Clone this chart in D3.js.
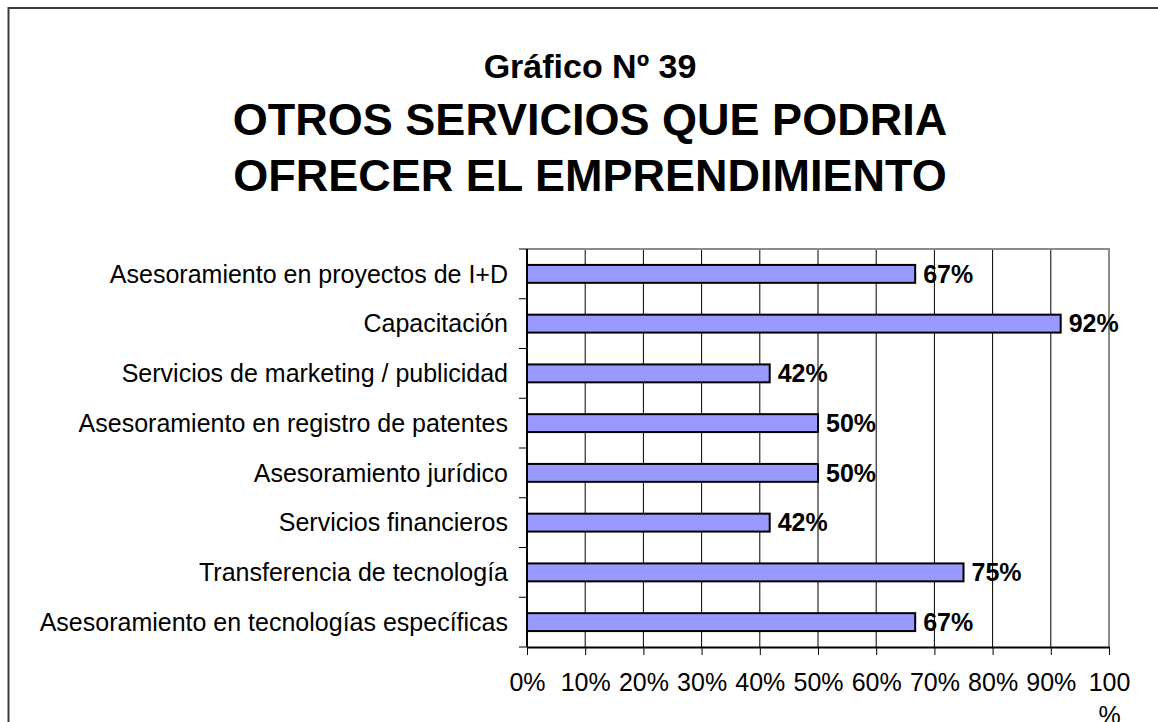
<!DOCTYPE html>
<html>
<head>
<meta charset="utf-8">
<script src="https://cdn.jsdelivr.net/npm/d3@7"></script>
<style>
  body { margin: 0; background: #fff; }
  svg text { font-family: "Liberation Sans", Arial, sans-serif; fill: #000; }
</style>
</head>
<body>
<div class="d3-wrapper"></div>
<script>
const categories = [
  'Asesoramiento en proyectos de I+D',
  'Capacitación',
  'Servicios de marketing / publicidad',
  'Asesoramiento en registro de patentes',
  'Asesoramiento jurídico',
  'Servicios financieros',
  'Transferencia de tecnología',
  'Asesoramiento en tecnologías específicas'
];
const values = [66.7, 91.7, 41.7, 50, 50, 41.7, 75, 66.7];
const tickValues = [0, 10, 20, 30, 40, 50, 60, 70, 80, 90, 100];
const titleLines = ['OTROS SERVICIOS QUE PODRIA', 'OFRECER EL EMPRENDIMIENTO'];

const WIDTH = 1158, HEIGHT = 722;
const PLOT = { left: 527, top: 249, right: 1109, bottom: 647 };
const BAR_FILL = '#9999ff';
const TITLE_X = 590;

const data = categories.map((c, i) => ({ name: c, value: values[i] }));

const xScale = d3.scaleLinear().domain([0, 100]).range([PLOT.left, PLOT.right]);
const yScale = d3.scaleBand().domain(categories).range([PLOT.top, PLOT.bottom])
  .paddingInner(0.64).paddingOuter(0.32);

const svg = d3.select('.d3-wrapper').append('svg')
  .attr('width', WIDTH)
  .attr('height', HEIGHT);

// outer frame (right and bottom edges fall outside the picture)
svg.append('rect')
  .attr('x', 8.5).attr('y', 8)
  .attr('width', WIDTH + 20).attr('height', HEIGHT + 20)
  .attr('fill', 'none')
  .attr('stroke', '#3a3a3a')
  .attr('stroke-width', 2);

// titles
svg.append('text')
  .attr('x', TITLE_X).attr('y', 78)
  .attr('text-anchor', 'middle')
  .style('font-size', '34px').style('font-weight', 'bold')
  .text('Gráfico Nº 39');

svg.selectAll('.title-line')
  .data(titleLines)
  .enter().append('text')
  .attr('class', 'title-line')
  .attr('x', TITLE_X)
  .attr('y', (d, i) => 135 + i * 56)
  .attr('text-anchor', 'middle')
  .style('font-size', '45px').style('font-weight', 'bold')
  .text(d => d);

// gridlines
svg.append('g')
  .selectAll('line')
  .data(tickValues.slice(1, -1))
  .enter().append('line')
  .attr('x1', d => xScale(d)).attr('x2', d => xScale(d))
  .attr('y1', PLOT.top).attr('y2', PLOT.bottom)
  .attr('stroke', '#000').attr('stroke-width', 1);

// plot area top/right border (grey)
svg.append('path')
  .attr('d', `M${PLOT.left},${PLOT.top}H${PLOT.right}V${PLOT.bottom}`)
  .attr('fill', 'none')
  .attr('stroke', '#8c8c8c').attr('stroke-width', 2);

// bars
svg.selectAll('.bar')
  .data(data)
  .enter().append('rect')
  .attr('class', 'bar')
  .attr('x', xScale(0))
  .attr('y', d => yScale(d.name))
  .attr('width', d => xScale(d.value) - xScale(0))
  .attr('height', yScale.bandwidth())
  .attr('fill', BAR_FILL)
  .attr('stroke', '#000').attr('stroke-width', 2);

// value labels
svg.selectAll('.value')
  .data(data)
  .enter().append('text')
  .attr('class', 'value')
  .attr('x', d => xScale(d.value) + 8)
  .attr('y', d => yScale(d.name) + yScale.bandwidth() / 2)
  .attr('dy', '0.35em')
  .style('font-size', '25px').style('font-weight', 'bold')
  .text(d => Math.round(d.value) + '%');

// y axis: category boundary ticks, labels
const yAxisG = svg.append('g');
const step = yScale.step();
yAxisG.selectAll('.ytick')
  .data(d3.range(categories.length + 1))
  .enter().append('line')
  .attr('x1', PLOT.left - 8).attr('x2', PLOT.left)
  .attr('y1', i => PLOT.top + i * step).attr('y2', i => PLOT.top + i * step)
  .attr('stroke', '#000').attr('stroke-width', 1);
yAxisG.append('line')
  .attr('x1', PLOT.left).attr('x2', PLOT.left)
  .attr('y1', PLOT.top).attr('y2', PLOT.bottom)
  .attr('stroke', '#000').attr('stroke-width', 2);
yAxisG.selectAll('.ylabel')
  .data(categories)
  .enter().append('text')
  .attr('x', PLOT.left - 19)
  .attr('y', d => yScale(d) + yScale.bandwidth() / 2)
  .attr('dy', '0.35em')
  .attr('text-anchor', 'end')
  .style('font-size', '25px')
  .text(d => d);

// x axis
const xAxis = d3.axisBottom(xScale)
  .tickValues(tickValues)
  .tickSizeInner(8).tickSizeOuter(0)
  .tickFormat(d => d + '%');
const xAxisG = svg.append('g')
  .attr('transform', `translate(0,${PLOT.bottom})`)
  .call(xAxis);
xAxisG.select('.domain').attr('stroke', '#000').attr('stroke-width', 2);
xAxisG.selectAll('.tick line').attr('stroke', '#000');
xAxisG.selectAll('.tick text')
  .attr('y', 44)
  .attr('dy', 0)
  .style('font-size', '25px')
  .attr('fill', '#000')
  .style('font-family', '"Liberation Sans", Arial, sans-serif');
// the last label wraps like the original: "100" then "%"
xAxisG.selectAll('.tick text').filter(d => d === 100)
  .text(null)
  .call(t => {
    t.append('tspan').attr('x', 0).attr('dy', 0).text('100');
    t.append('tspan').attr('x', 0).attr('dy', 33).text('%');
  });
</script>
</body>
</html>
